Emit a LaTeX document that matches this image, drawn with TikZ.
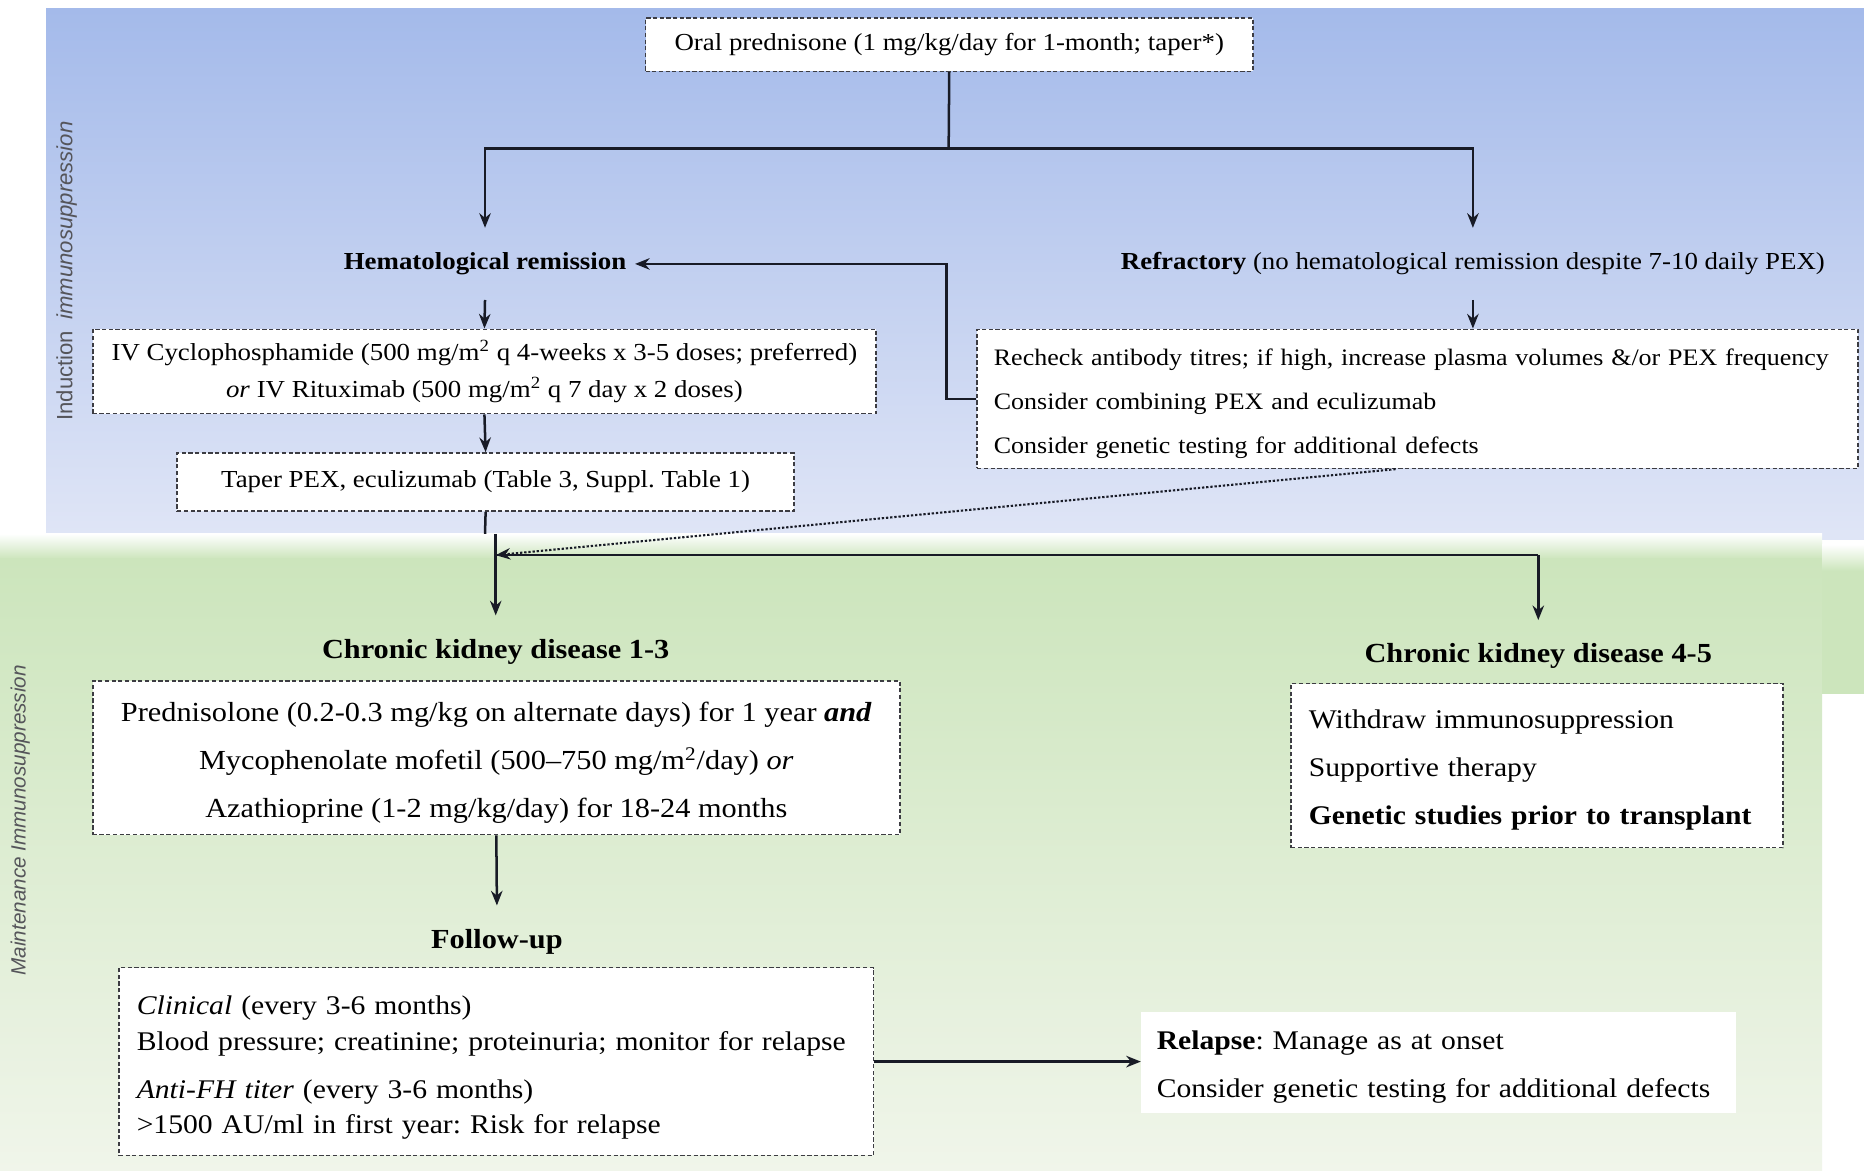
\documentclass[tikz,border=0pt]{standalone}
\usepackage{fontspec}
\setmainfont{Liberation Serif}[FakeStretch=1.1]
\newfontfamily\sidefont{Liberation Sans}
\usetikzlibrary{arrows.meta,calc}

\definecolor{bluetop}{RGB}{164,186,234}
\definecolor{bluemid}{RGB}{190,196,239}
\definecolor{bluebot}{RGB}{223,229,246}
\definecolor{greentop}{RGB}{204,229,188}
\definecolor{greenbot}{RGB}{240,245,234}
\definecolor{ink}{RGB}{24,27,38}
\definecolor{boxline}{RGB}{60,60,66}
\definecolor{sidegray}{RGB}{85,85,90}

\newcommand\fsup{\fontsize{11.7}{17.6}\selectfont}
\newcommand\fslow{\fontsize{13.2}{23}\selectfont}
\newcommand\fsbox{\fontsize{12.9}{23}\selectfont}
% invisible strut that pushes the first line of a box down a little
\newcommand\firststrut[1]{\rule{0pt}{#1}}

\begin{document}
\frenchspacing
\begin{tikzpicture}[x=0.02cm,y=-0.02cm,
  dbox/.style={draw=boxline, dash pattern=on 2pt off 1.2pt, line width=0.75pt,
               fill=white, inner sep=0pt},
  ttl/.style={minimum height=1.2cm, inner xsep=4pt, inner ysep=0pt},
  conn/.style={draw=ink, line width=1.2pt},
  arr/.style={conn, -{Stealth[length=7pt,width=5.5pt]}},
  dotarr/.style={draw=ink, line width=1pt, dash pattern=on 1.1pt off 0.9pt,
                 -{Stealth[length=7pt,width=5.5pt]}},
  side/.style={rotate=90, text=sidegray}
]
% page and the two phase panels
\useasboundingbox (0,0) rectangle (1568,985);
\fill[white] (0,0) rectangle (1568,985);
\shade[top color=bluetop, middle color=bluemid, bottom color=bluebot]
  (38.7,7.5) rectangle (1568,449);
\fill[bluebot] (1532.7,449) rectangle (1568,454);
\shade[top color=white, bottom color=greentop] (0,449) rectangle (1532.7,470);
\shade[top color=greentop, bottom color=greenbot] (0,470) rectangle (1532.7,985);
\shade[top color=white, bottom color=greentop] (1532.7,458) rectangle (1568,480);
\fill[greentop] (1532.7,480) rectangle (1568,584);

% phase labels
\node[side, font=\sidefont\fontsize{10.6}{12}\selectfont] (indlab) at (56,228)
  {Induction\hspace{0.5em}\textit{immunosuppression}};
\node[side, font=\sidefont\itshape\fontsize{9.9}{12}\selectfont] (mainlab) at (17,690)
  {Maintenance Immunosuppression};

% induction phase
\node[dbox, minimum width=10.22cm, minimum height=0.9cm, font=\fsup] (oral)
  at (798.5,37.5) {Oral prednisone (1 mg/kg/day for 1-month; taper*)};

\node[ttl, font=\fsup\bfseries] (hem) at (408,222) {Hematological remission};
\node[ttl, font=\fsup] (refr) at (1239,222)
  {\textbf{Refractory} (no hematological remission despite 7-10 daily PEX)};

\node[dbox, minimum width=13.18cm, minimum height=1.42cm, align=center,
      font=\fsup] (iv) at (407.5,312.5)
  {IV Cyclophosphamide (500 mg/m\textsuperscript{2} q 4-weeks x 3-5 doses; preferred)\\
   \textit{or} IV Rituximab (500 mg/m\textsuperscript{2} q 7 day x 2 doses)};

\node[dbox, minimum width=10.38cm, minimum height=0.98cm, font=\fsup] (taper)
  at (408.5,405.5) {Taper PEX, eculizumab (Table 3, Suppl. Table 1)};

\node[dbox, minimum width=14.82cm, minimum height=2.34cm, text width=14.26cm,
      inner xsep=0.28cm, align=left, font=\fontsize{11.3}{21}\selectfont] (refbox)
  at (1192.5,335.5)
  {\mbox{\firststrut{12.5pt}Recheck antibody titres; if high, increase plasma volumes \&/or PEX frequency}\\
   \mbox{Consider combining PEX and eculizumab}\\
   \mbox{Consider genetic testing for additional defects}};

% maintenance phase
\node[ttl, font=\fslow\bfseries] (ckd13) at (417,548) {Chronic kidney disease 1-3};
\node[ttl, font=\fslow\bfseries] (ckd45) at (1294,552) {Chronic kidney disease 4-5};

\node[dbox, minimum width=13.58cm, minimum height=2.58cm, align=center,
      font=\fslow] (ckdbox) at (417.5,637.5)
  {\firststrut{14pt}Prednisolone (0.2-0.3 mg/kg on alternate days) for 1 year \textbf{\textit{and}}\\
   Mycophenolate mofetil (500--750 mg/m\textsuperscript{2}/day) \textit{or}\\
   Azathioprine (1-2 mg/kg/day) for 18-24 months};

\node[dbox, minimum width=8.28cm, minimum height=2.76cm, text width=7.68cm,
      inner xsep=0.3cm, align=left, font=\fsbox] (k45box) at (1293,644)
  {\mbox{\firststrut{13pt}Withdraw immunosuppression}\\
   \mbox{Supportive therapy}\\
   \mbox{\textbf{Genetic studies prior to transplant}}};

\node[ttl, font=\fslow\bfseries] (fu) at (418,792) {Follow-up};

\node[dbox, minimum width=12.7cm, minimum height=3.16cm, text width=12.1cm,
      inner xsep=0.3cm, align=left, font=\fontsize{12.9}{17}\selectfont] (fubox)
  at (417.5,893)
  {\mbox{\firststrut{15pt}\textit{Clinical} (every 3-6 months)}\\
   \mbox{Blood pressure; creatinine; proteinuria; monitor for relapse}\\[6pt]
   \mbox{\textit{Anti-FH titer} (every 3-6 months)}\\
   \mbox{>1500 AU/ml in first year: Risk for relapse}};

\node[fill=white, minimum width=10cm, minimum height=1.7cm, text width=9.48cm,
      inner xsep=0.26cm, inner ysep=0pt, align=left, font=\fsbox] (relbox)
  at (1210,894)
  {\mbox{\firststrut{13.5pt}\textbf{Relapse}: Manage as at onset}\\
   \mbox{Consider genetic testing for additional defects}};

% connectors
\coordinate (split) at (798,125);
\draw[conn] (oral.south) -- (split);
\draw[arr] (split) -| (hem.north);
\draw[arr] (split) -| (refr.north);
\draw[arr] (hem.south) -- (iv.north);
\draw[arr] (iv.south) -- (taper.north);
\draw[arr] (refr.south) -- (refr.south |- refbox.north);
\coordinate (loopx) at (796,335.5);
\draw[arr] (refbox.west) -- (loopx) |- (hem.east);

\coordinate (bandedge) at (408,449);
\coordinate (bandlow) at (417,449);
\coordinate (junction) at (417,467);
\coordinate (rightturn) at (1294,467);
\draw[conn] (taper.south) -- (bandedge);
\draw[conn] (bandlow) -- (junction);
\draw[arr] (junction) -- (ckd13.north);
\draw[conn] (junction) -- (rightturn);
\draw[arr] (rightturn) -- (ckd45.north);
\draw[dotarr] ($(refbox.south west)!0.475!(refbox.south east)$) -- (junction);

\draw[arr] (ckdbox.south) -- (fu.north);
\draw[arr] (fubox.east) -- (fubox.east -| relbox.west);
\end{tikzpicture}
\end{document}
